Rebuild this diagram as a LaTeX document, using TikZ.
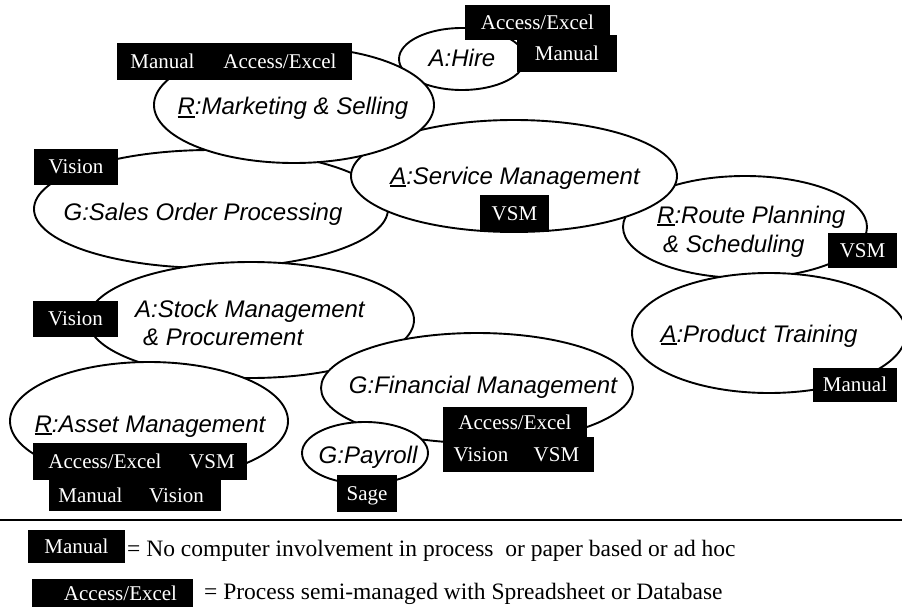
\documentclass[tikz,border=0pt]{standalone}
\usepackage{fontspec}
\setmainfont{Liberation Serif}
\newfontfamily\arialf{Liberation Sans}
\usetikzlibrary{shapes.geometric}
\tikzset{
  proc/.style={ellipse, draw, line width=1.9pt, fill=white, inner sep=0pt, outer sep=0pt},
  ptext/.style={font=\arialf\itshape\fontsize{24}{28}\selectfont, inner sep=0pt, anchor=base},
  ptextw/.style={ptext, anchor=base west},
  tag/.style={fill=black, text=white, font=\fontsize{21}{24}\selectfont, inner sep=0pt, outer sep=0pt,
    anchor=north west, text height=13.9pt, text depth=0pt},
  legtag/.style={tag, font=\fontsize{21}{24}\selectfont, text height=14pt},
  legtext/.style={font=\fontsize{23.5}{27}\selectfont, inner sep=0pt, anchor=base west},
}
\newcommand\uln[1]{{\setbox0\hbox{#1}\rlap{\rule[-3.2pt]{\wd0}{2.4pt}}\box0}}
\begin{document}
\begin{tikzpicture}[x=1pt,y=-1pt]
\useasboundingbox (0,0) rectangle (902,607);
% ellipses
\node[proc, minimum width=244pt, minimum height=102pt] (route) at (745,227) {};
\node[proc, minimum width=274pt, minimum height=120pt] (product) at (769,333) {};
\node[proc, minimum width=126pt, minimum height=62pt] (hire) at (462,59) {};
\node[proc, minimum width=354pt, minimum height=118pt] (sales) at (211,209) {};
\node[proc, minimum width=326pt, minimum height=116pt] (stock) at (251,320) {};
\node[proc, minimum width=278pt, minimum height=118pt] (asset) at (149,421) {};
\node[proc, minimum width=312pt, minimum height=110pt] (fin) at (477,388) {};
\node[proc, minimum width=126pt, minimum height=62pt] (pay) at (365,453) {};
\node[proc, minimum width=326pt, minimum height=112pt] (service) at (514,176) {};
\node[proc, minimum width=280pt, minimum height=116pt] (mkt) at (294,105) {};
% texts
\node[ptext] (tmkt) at (293,115) {\uln{R}:Marketing \& Selling};
\node[ptext] (thire) at (462,66.5) {A:Hire};
\node[ptext] (tsales) at (203,220) {G:Sales Order Processing};
\node[ptext] (tservice) at (515,184) {\uln{A}:Service Management};
\node[ptextw] (troute1) at (657,223) {\uln{R}:Route Planning};
\node[ptextw] (troute2) at (663,252) {\& Scheduling};
\node[ptext] (tproduct) at (759,342) {\uln{A}:Product Training};
\node[ptextw] (tstock1) at (135,317) {A:Stock Management};
\node[ptextw] (tstock2) at (143,345) {\& Procurement};
\node[ptext] (tfin) at (483,393) {G:Financial Management};
\node[ptext] (tasset) at (150,432) {\uln{R}:Asset Management};
\node[ptext] (tpay) at (368,463) {G:Payroll};
% tags
\node[tag, minimum width=91pt, minimum height=37pt] (b1) at (117,43) {Manual};
\node[tag, minimum width=144pt, minimum height=37pt] (b2) at (208,43) {Access/Excel};
\node[tag, minimum width=145pt, minimum height=35pt] (b3) at (465,5) {Access/Excel};
\node[tag, minimum width=100pt, minimum height=37pt] (b4) at (517,35) {Manual};
\node[tag, minimum width=84pt, minimum height=36pt] (b5) at (34,149) {Vision};
\node[tag, minimum width=69pt, minimum height=37pt] (b6) at (480,195) {VSM};
\node[tag, minimum width=69pt, minimum height=35pt] (b7) at (828,233) {VSM};
\node[tag, minimum width=85pt, minimum height=36pt] (b8) at (33,301) {Vision};
\node[tag, minimum width=84pt, minimum height=34pt] (b9) at (813,368) {Manual};
\node[tag, minimum width=144pt, minimum height=31pt] (b10) at (443,407) {Access/Excel};
\node[tag, minimum width=76pt, minimum height=35pt] (b11) at (443,437) {Vision};
\node[tag, minimum width=75pt, minimum height=35pt] (b12) at (519,437) {VSM};
\node[tag, minimum width=144pt, minimum height=37pt] (b13) at (33,443) {Access/Excel};
\node[tag, minimum width=70pt, minimum height=37pt] (b14) at (177,443) {VSM};
\node[tag, minimum width=83pt, minimum height=31pt] (b15) at (49,480) {Manual};
\node[tag, minimum width=89pt, minimum height=31pt] (b16) at (132,480) {Vision};
\node[tag, minimum width=60pt, minimum height=37pt] (b17) at (337,475) {Sage};
% legend
\coordinate (rl) at (0,520);
\coordinate (rr) at (902,520);
\draw[line width=1.4pt] (rl) -- (rr);
\node[legtag, minimum width=97pt, minimum height=33pt] (lg1) at (28,530) {Manual\hspace{13pt}};
\node[legtext] (lt1) at (127,556) {= No computer involvement in process\ \ or paper based or ad hoc};
\node[legtag, minimum width=161pt, minimum height=29pt] (lg2) at (32,579) {\hspace{16pt}Access/Excel};
\node[legtext] (lt2) at (204,599) {= Process semi-managed with Spreadsheet or Database};
\end{tikzpicture}
\end{document}
